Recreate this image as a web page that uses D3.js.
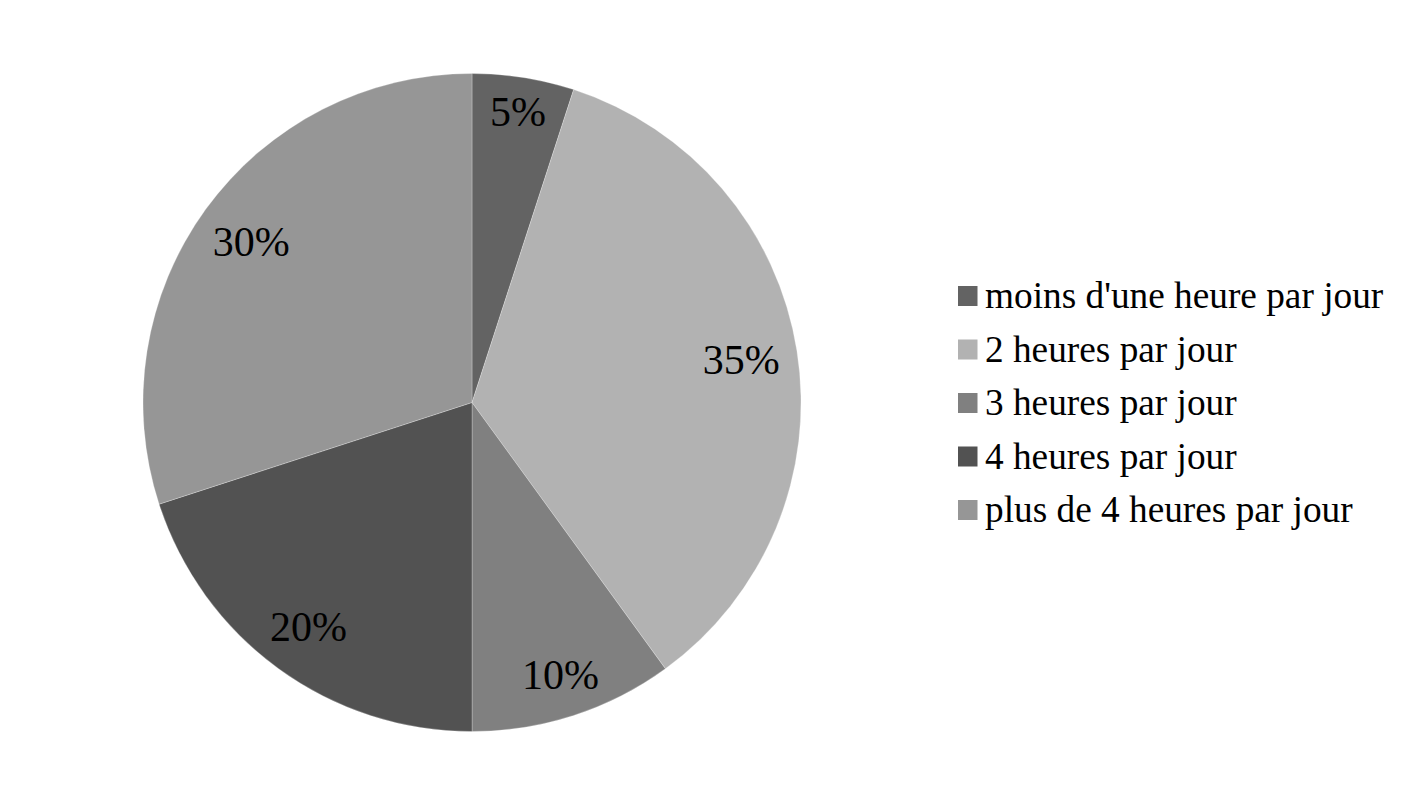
<!DOCTYPE html>
<html><head><meta charset="utf-8">
<script src="https://cdn.jsdelivr.net/npm/d3@7/dist/d3.min.js"></script>
<style>html,body{margin:0;padding:0;background:#fff;} svg text{font-family:"Liberation Serif";}</style>
</head><body>
<svg id="chart" width="1408" height="805"></svg>
<script>
const categories = ["moins d'une heure par jour", "2 heures par jour", "3 heures par jour", "4 heures par jour", "plus de 4 heures par jour"];
const values = [5, 35, 10, 20, 30];
const labels = ["5%", "35%", "10%", "20%", "30%"];
const colors = ["#636363", "#b2b2b2", "#808080", "#525252", "#969696"];

const svg = d3.select("#chart");
const cx = 472, cy = 402.5, R = 329;
const LABEL_FS = 42, EDGE = 313;
const g = svg.append("g").attr("transform", `translate(${cx},${cy})`);
const pie = d3.pie().sort(null).value(d => d)(values);
const arc = d3.arc().innerRadius(0).outerRadius(R);
const color = d3.scaleOrdinal().domain(d3.range(values.length)).range(colors);

g.selectAll("path").data(pie).join("path")
  .attr("d", arc).attr("fill", (d,i) => color(i))
  .attr("stroke", "rgba(255,255,255,0.25)").attr("stroke-width", 1);

const txt = g.selectAll("text").data(pie).join("text")
  .attr("text-anchor", "middle").attr("dy", "0.33em")
  .style("font-family", "Liberation Serif")
  .style("font-size", LABEL_FS + "px").attr("fill", "#000")
  .text((d,i) => labels[i]);
txt.each(function(d) {
  const w = this.getBBox().width, h = LABEL_FS * 0.72;
  const a = (d.startAngle + d.endAngle) / 2;
  const s = Math.sin(a), c = -Math.cos(a);
  const ext = Math.abs(s) * w / 2 + Math.abs(c) * h / 2;
  const r = EDGE - ext;
  d3.select(this).attr("transform", `translate(${r * s},${r * c})`);
});

const lg = svg.append("g").attr("transform", "translate(958,296)");
const rows = lg.selectAll("g").data(categories).join("g")
  .attr("transform", (d,i) => `translate(0,${i*53.5})`);
rows.append("rect").attr("x", 0).attr("y", -10).attr("width", 19.5).attr("height", 20)
  .attr("fill", (d,i) => color(i));
rows.append("text").attr("x", 27).attr("y", 12)
  .style("font-family", "Liberation Serif")
  .style("font-size", "37.3px").attr("fill", "#000").text(d => d);
</script>
</body></html>
